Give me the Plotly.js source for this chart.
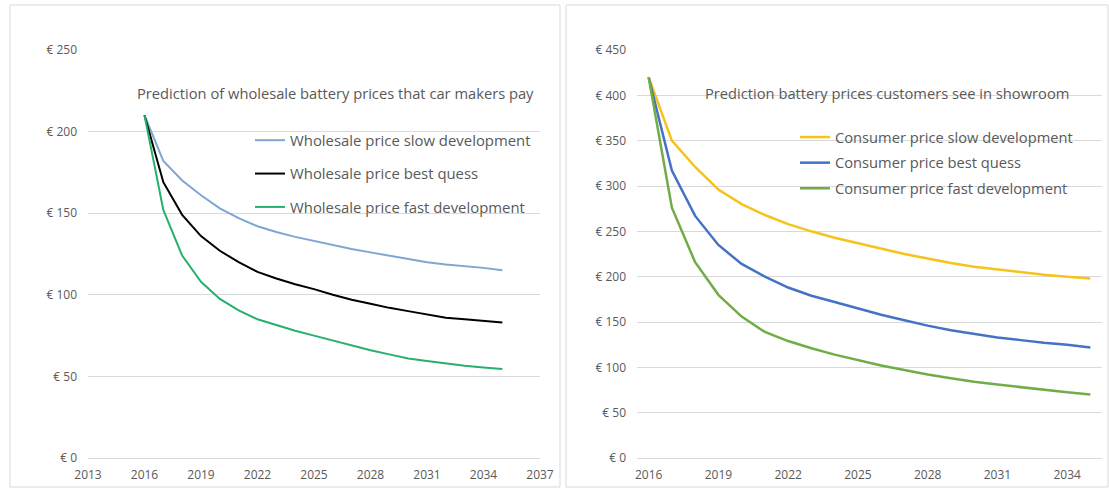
<!DOCTYPE html>
<html>
<head>
<meta charset="utf-8">
<script src="https://cdn.plot.ly/plotly-3.0.1.min.js"></script>
<style>html,body{margin:0;padding:0;background:#fff;}#chart{width:1109px;height:488px;}</style>
</head>
<body>
<div id="chart"></div>
<script>
// Data
const years = [2016,2017,2018,2019,2020,2021,2022,2023,2024,2025,2026,2027,2028,2029,2030,2031,2032,2033,2034,2035];

const wholesaleSlow = [210,182,170,161,153,147,142,138.5,135.5,133,130.5,128,126,124,122,120,118.5,117.5,116.5,115];
const wholesaleBest = [210,169,149,136,127,120,114,110,106.5,103.5,100,97,94.5,92,90,88,86,85,84,83];
const wholesaleFast = [210,152,124,108,97.5,90.5,85,81.5,78,75,72,69,66,63.5,61,59.5,58,56.5,55.5,54.5];

const consumerSlow = [420,350,321,296,280,268,258,250,243,237,231,225,220,215,211,208,205,202,200,198];
const consumerBest = [420,317,267,235,214,200,188,179,172,165,158,152,146,141,137,133,130,127,125,122];
const consumerFast = [420,276,216,180,156,139,129,121,114,108,102,97,92,88,84,81,78,75,72.5,70];

const leftNames = ["Wholesale price slow development","Wholesale price best quess","Wholesale price fast development"];
const rightNames = ["Consumer price slow development","Consumer price best quess","Consumer price fast development"];
const leftTitle = "Prediction of wholesale battery prices that car makers pay";
const rightTitle = "Prediction battery prices customers see in showroom";
const leftXTicks = [2013,2016,2019,2022,2025,2028,2031,2034,2037];
const rightXTicks = [2016,2019,2022,2025,2028,2031,2034];

const W = 1109, H = 488;
const px = v => v / W;
const py = v => 1 - v / H;
const grey = "#595959";
const font = "Open Sans, Lato, sans-serif";

const traces = [
  {x: years, y: wholesaleSlow, name: leftNames[0], line:{color:"#7fa6d2", width:2}, xaxis:"x", yaxis:"y", legend:"legend", legendgroup:"a"},
  {x: years, y: wholesaleBest, name: leftNames[1], line:{color:"#000000", width:2}, xaxis:"x", yaxis:"y", legend:"legend", legendgroup:"b"},
  {x: years, y: wholesaleFast, name: leftNames[2], line:{color:"#27b06c", width:2}, xaxis:"x", yaxis:"y", legend:"legend", legendgroup:"c"},
  {x: years, y: consumerSlow, name: rightNames[0], line:{color:"#f7c21a", width:2.5}, xaxis:"x2", yaxis:"y2", legend:"legend2", legendgroup:"d"},
  {x: years, y: consumerBest, name: rightNames[1], line:{color:"#4472c4", width:2.5}, xaxis:"x2", yaxis:"y2", legend:"legend2", legendgroup:"e"},
  {x: years, y: consumerFast, name: rightNames[2], line:{color:"#70ad47", width:2.5}, xaxis:"x2", yaxis:"y2", legend:"legend2", legendgroup:"f"}
].map(t => Object.assign({type:"scatter", mode:"lines", hoverinfo:"skip"}, t));

const yBase = {
  showgrid:true, gridcolor:"#d9d9d9", gridwidth:1,
  zeroline:true, zerolinecolor:"#d9d9d9", zerolinewidth:1,
  showline:false, ticks:"", tickprefix:"€ ",
  tickfont:{family:font, size:12, color:grey}, ticklabelstandoff:10,
  domain:[py(458), py(50)], fixedrange:true
};
const xBase = {
  showgrid:false, zeroline:false, showline:false, ticks:"",
  tickfont:{family:font, size:12, color:grey}, ticklabelstandoff:8, fixedrange:true
};

const layout = {
  width: W, height: H,
  margin:{l:0, r:0, t:0, b:0},
  paper_bgcolor:"#ffffff", plot_bgcolor:"#ffffff",
  showlegend:true,
  xaxis: Object.assign({}, xBase, {domain:[px(88), px(540)], range:[2013,2037], tickmode:"array", tickvals:leftXTicks, anchor:"y"}),
  yaxis: Object.assign({}, yBase, {range:[0,250], dtick:50, tick0:0, anchor:"x"}),
  xaxis2: Object.assign({}, xBase, {domain:[px(637), px(1102)], range:[2015.5,2035.5], tickmode:"array", tickvals:rightXTicks, anchor:"y2"}),
  yaxis2: Object.assign({}, yBase, {range:[0,450], dtick:50, tick0:0, anchor:"x2"}),
  legend: {x:px(250), y:py(124), xanchor:"left", yanchor:"top", bgcolor:"rgba(0,0,0,0)",
           font:{family:font, size:14.9, color:grey}, tracegroupgap:11, traceorder:"grouped"},
  legend2: {x:px(795), y:py(121), xanchor:"left", yanchor:"top", bgcolor:"rgba(0,0,0,0)",
           font:{family:font, size:14.7, color:grey}, tracegroupgap:3.5, traceorder:"grouped"},
  annotations:[
    {xref:"paper", yref:"paper", x:px(135), y:py(93), xanchor:"left", yanchor:"middle", showarrow:false,
     text:leftTitle, font:{family:font, size:14.7, color:grey}},
    {xref:"paper", yref:"paper", x:px(703), y:py(93), xanchor:"left", yanchor:"middle", showarrow:false,
     text:rightTitle, font:{family:font, size:14.7, color:grey}}
  ],
  shapes:[
    {type:"rect", xref:"paper", yref:"paper", x0:px(10), x1:px(560), y0:py(487), y1:py(5), line:{color:"#d9d9d9", width:1}, layer:"below"},
    {type:"rect", xref:"paper", yref:"paper", x0:px(566), x1:px(1108), y0:py(487), y1:py(5), line:{color:"#d9d9d9", width:1}, layer:"below"}
  ]
};

Plotly.newPlot("chart", traces, layout, {staticPlot:true, displayModeBar:false});
</script>
</body>
</html>
